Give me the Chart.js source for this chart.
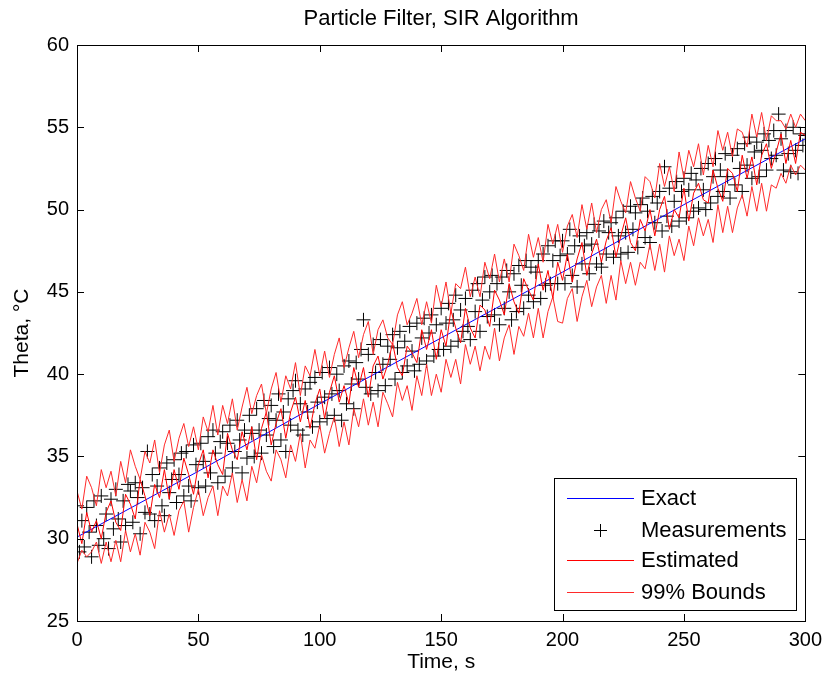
<!DOCTYPE html>
<html>
<head>
<meta charset="utf-8">
<title>Particle Filter, SIR Algorithm</title>
<script src="https://cdn.jsdelivr.net/npm/chart.js@4.4.0/dist/chart.umd.min.js"></script>
<style>
    html, body { margin: 0; padding: 0; background: #fff; }
    canvas { display: block; }
</style>
</head>
<body>
<canvas id="pf-chart" width="829" height="684"></canvas>
<script>
// exact temperature (straight line)
const exactTimes = [0, 50, 100, 150, 200, 250, 300];
const exactTheta = [30.1, 34.1, 38.2, 42.2, 46.2, 50.3, 54.3];

// measurements, one per second from t = 0 to 300
const measStep = 1;
const measTheta = [
    32.0, 29.2, 31.1, 29.5, 31.9, 30.4, 28.9, 32.3, 30.8, 29.6,
    32.6, 30.0, 31.5, 29.4, 32.4, 30.6, 33.0, 31.2, 29.8, 32.3,
    30.8, 33.3, 32.9, 31.0, 33.4, 32.5, 30.3, 33.1, 31.6, 35.3,
    31.5, 33.9, 31.1, 33.2, 34.3, 32.0, 31.4, 34.6, 32.8, 33.6,
    34.8, 32.2, 33.9, 35.2, 32.6, 35.3, 33.2, 32.3, 35.7, 34.5,
    33.1, 35.8, 34.7, 33.2, 36.2, 34.0, 36.6, 35.2, 33.4, 35.9,
    36.5, 33.8, 35.8, 36.9, 34.3, 35.3, 37.2, 36.0, 34.0, 36.6,
    34.9, 37.5, 36.4, 35.0, 37.9, 36.6, 35.2, 38.4, 36.3, 37.3,
    38.1, 35.6, 37.2, 38.8, 36.0, 37.7, 35.3, 38.5, 36.9, 39.0,
    39.6, 36.6, 38.2, 36.3, 39.1, 37.7, 39.5, 36.8, 39.8, 38.3,
    37.1, 40.1, 38.6, 37.3, 40.4, 38.8, 37.5, 40.0, 39.0, 37.2,
    40.5, 38.2, 40.8, 39.4, 37.9, 40.7, 39.7, 41.5, 43.3, 39.2,
    41.2, 38.8, 41.8, 40.1, 39.0, 42.1, 40.6, 39.3, 41.7, 40.9,
    42.4, 39.7, 41.6, 42.6, 40.1, 42.0, 40.5, 42.9, 41.4, 40.2,
    43.1, 40.6, 42.2, 43.4, 40.8, 42.5, 43.6, 41.1, 43.0, 41.5,
    44.0, 41.5, 43.1, 44.3, 41.7, 43.3, 44.8, 42.0, 43.9, 42.6,
    44.6, 42.9, 42.1, 45.1, 43.8, 45.5, 42.6, 44.5, 45.9, 43.5,
    45.0, 46.0, 43.6, 45.5, 43.0, 45.9, 44.0, 46.3, 45.0, 43.3,
    46.1, 43.8, 46.6, 45.4, 44.0, 46.9, 44.8, 46.5, 44.4, 46.2,
    46.9, 44.6, 47.3, 45.4, 47.8, 45.5, 46.9, 48.1, 45.5, 47.2,
    48.1, 45.5, 47.3, 48.8, 46.0, 47.8, 45.3, 48.4, 46.7, 47.8,
    48.6, 46.1, 47.9, 49.1, 46.7, 48.7, 46.5, 49.3, 47.3, 48.6,
    49.2, 47.1, 49.5, 48.4, 47.3, 49.9, 48.6, 47.4, 50.2, 48.8,
    49.8, 47.7, 50.3, 50.7, 48.3, 49.9, 48.0, 50.8, 49.2, 50.4,
    51.1, 48.7, 52.6, 49.6, 51.3, 49.0, 50.5, 51.7, 49.3, 51.1,
    51.9, 49.5, 51.2, 52.2, 49.9, 51.8, 50.1, 52.5, 51.2, 50.0,
    52.8, 50.4, 52.0, 53.1, 50.8, 52.4, 51.1, 53.4, 52.0, 50.7,
    53.3, 51.5, 53.7, 52.5, 51.1, 54.0, 52.7, 54.4, 51.9, 53.5,
    54.1, 52.0, 53.6, 54.6, 52.4, 54.2, 53.1, 54.8, 53.3, 55.8,
    54.3, 52.4, 54.8, 53.4, 52.3, 55.0, 53.6, 52.2, 54.6, 53.9,
    54.5
];

// filter output, every 2 s from t = 0 to 300
const filterStep = 2;
const estTheta = [
    30.9, 29.7, 31.6, 30.4, 31.1,  30.0, 31.6, 32.3, 31.0, 30.5,
    32.7, 32.1, 31.2, 33.6, 32.6,  31.4, 33.3, 32.5, 34.2, 32.4,
    34.2, 33.0, 34.9, 33.9, 32.7,  34.5, 35.4, 33.7, 35.4, 34.5,
    33.9, 36.4, 35.4, 34.8, 36.5,  35.4, 36.8, 34.8, 36.7, 37.7,
    35.7, 37.0, 37.9, 36.1, 37.7,  38.6, 37.1, 38.4, 36.7, 38.2,
    39.1, 37.3, 38.9, 39.9, 38.3,  39.3, 38.2, 40.4, 39.2, 40.4,
    38.6, 40.5, 41.1, 39.7, 40.6,  41.9, 40.4, 39.9, 41.7, 41.3,
    40.7, 42.7, 41.5, 42.7, 40.9,  42.7, 41.7, 43.9, 42.8, 41.9,
    44.0, 42.8, 42.2, 44.2, 43.9,  42.9, 45.1, 44.5, 43.6, 45.5,
    44.4, 43.7, 45.8, 45.1, 44.5,  46.7, 45.1, 46.3, 44.6, 46.8,
    45.7, 47.3, 45.6, 47.0, 48.0,  46.0, 47.3, 48.2, 46.8, 48.1,
    48.9, 47.1, 48.4, 49.5, 48.0,  47.5, 49.4, 48.7, 50.0, 48.4,
    50.0, 50.8, 48.8, 50.0, 49.5,  51.3, 49.3, 51.0, 51.6, 50.6,
    50.4, 52.4, 51.3, 50.5, 52.5,  52.2, 51.1, 53.3, 51.9, 53.2,
    51.5, 53.3, 54.0, 52.5, 53.5,  54.6, 52.8, 54.2, 52.8, 54.7,
    54.5
];
const upperTheta = [
    32.9, 31.8, 33.8, 33.1, 32.0,  34.2, 33.1, 34.1, 32.6, 34.7,
    33.4, 35.4, 34.4, 33.6, 35.3,  34.6, 36.0, 34.0, 35.7, 36.6,
    34.7, 36.1, 37.0, 35.6, 36.8,  35.4, 37.4, 36.5, 38.1, 36.3,
    38.1, 37.0, 38.5, 36.6, 38.0,  39.2, 37.6, 38.7, 39.4, 37.6,
    39.1, 40.1, 38.3, 39.9, 39.1,  40.7, 38.7, 40.5, 39.9, 41.5,
    39.9, 41.4, 39.8, 41.2, 42.2,  40.4, 41.6, 42.6, 41.0, 42.4,
    43.2, 41.2, 42.7, 43.3, 42.2,  41.8, 43.6, 44.4, 43.0, 43.7,
    44.6, 43.0, 44.4, 43.1, 45.4,  44.1, 45.6, 43.7, 45.5, 45.2,
    46.5, 44.7, 45.9, 44.7, 46.8,  45.8, 47.3, 45.6, 47.0, 45.6,
    47.9, 47.2, 46.3, 48.5, 47.1,  48.3, 46.8, 49.1, 47.9, 49.1,
    47.4, 49.0, 49.7, 48.3, 50.3,  48.8, 50.4, 48.6, 50.0, 50.6,
    49.2, 51.4, 50.5, 49.8, 51.7,  50.7, 49.9, 52.0, 51.7, 50.7,
    52.8, 51.4, 52.6, 51.1, 53.5,  51.9, 53.6, 52.6, 54.0, 52.1,
    53.9, 52.6, 54.8, 53.6, 54.7,  53.2, 54.9, 54.7, 53.8, 55.8,
    54.4, 55.9, 54.2, 55.7, 55.4,  55.4, 54.9, 55.8, 55.0, 55.8,
    55.4
];
const lowerTheta = [
    28.5, 29.3, 28.9, 29.2, 29.8,  28.5, 29.8, 28.6, 29.9, 28.6,
    30.5, 29.2, 30.3, 29.0, 31.0,  30.4, 29.4, 31.7, 30.4, 31.5,
    30.2, 31.7, 32.3, 30.4, 31.9,  33.0, 31.4, 32.5, 33.2, 31.4,
    33.2, 32.6, 34.0, 32.2, 33.6,  32.3, 34.4, 33.4, 35.1, 34.1,
    33.5, 35.4, 34.8, 33.7, 35.7,  34.7, 36.4, 34.3, 36.0, 35.5,
    36.9, 35.2, 36.4, 37.4, 35.6,  37.1, 35.7, 37.9, 36.8, 38.5,
    36.9, 38.3, 36.8, 38.9, 38.2,  37.4, 39.5, 38.4, 39.3, 37.8,
    39.9, 38.7, 40.6, 38.7, 40.0,  38.9, 40.9, 39.8, 40.9, 39.4,
    41.8, 40.6, 41.7, 40.2, 41.7,  40.9, 42.8, 40.8, 42.2, 43.0,
    41.2, 42.9, 42.3, 43.7, 42.2,  44.0, 42.2, 43.8, 44.7, 43.2,
    43.1, 44.6, 45.2, 43.2, 44.7,  45.7, 44.1, 45.3, 46.0, 44.3,
    46.0, 44.5, 46.9, 45.5, 46.8,  45.4, 46.8, 46.4, 47.9, 46.3,
    47.9, 46.2, 48.4, 47.2, 48.2,  46.9, 49.0, 47.8, 49.5, 48.4,
    49.4, 48.0, 50.3, 48.6, 50.2,  48.6, 50.1, 50.9, 49.6, 51.4,
    49.9, 51.6, 49.9, 51.5, 51.3,  52.2, 51.6, 52.7, 52.1, 52.7,
    52.4
];

const xTicks = [0, 50, 100, 150, 200, 250, 300];
const yTicks = [25, 30, 35, 40, 45, 50, 55, 60];
const legendLabels = ['Exact', 'Measurements', 'Estimated', '99% Bounds'];
const chartTitle = 'Particle Filter, SIR Algorithm';

const FONT = '"Liberation Sans", Arial, sans-serif';
Chart.defaults.font.family = FONT;
Chart.defaults.color = '#000';

function toPoints(values, step) {
    return values.map((v, i) => ({ x: i * step, y: v }));
}

// title centred over the axes, like matlab does
const titlePlugin = {
    id: 'axesTitle',
    afterDraw(chart) {
        const { ctx, chartArea: a } = chart;
        ctx.save();
        ctx.font = '22px ' + FONT;
        ctx.fillStyle = '#000';
        ctx.textAlign = 'center';
        ctx.textBaseline = 'middle';
        ctx.fillText(chartTitle, (a.left + a.right) / 2, 19);
        ctx.restore();
    }
};

// matlab style box with inward ticks on all four sides
const boxPlugin = {
    id: 'matlabBox',
    afterDatasetsDraw(chart) {
        const { ctx, chartArea: a, scales: { x, y } } = chart;
        const len = 7;
        ctx.save();
        ctx.strokeStyle = '#000';
        ctx.lineWidth = 1;
        ctx.beginPath();
        xTicks.forEach(v => {
            const px = Math.round(x.getPixelForValue(v)) + 0.5;
            ctx.moveTo(px, a.bottom); ctx.lineTo(px, a.bottom - len);
            ctx.moveTo(px, a.top); ctx.lineTo(px, a.top + len);
        });
        yTicks.forEach(v => {
            const py = Math.round(y.getPixelForValue(v)) + 0.5;
            ctx.moveTo(a.left, py); ctx.lineTo(a.left + len, py);
            ctx.moveTo(a.right, py); ctx.lineTo(a.right - len, py);
        });
        ctx.stroke();
        ctx.strokeRect(Math.round(a.left) + 0.5, Math.round(a.top) + 0.5,
            Math.round(a.right - a.left), Math.round(a.bottom - a.top));
        ctx.restore();
    }
};

// legend box drawn inside the plot, lower right
const legendPlugin = {
    id: 'insideLegend',
    afterDraw(chart) {
        const { ctx, chartArea: a } = chart;
        const w = 242, h = 132;
        const left = Math.round(a.right - 9 - w);
        const top = Math.round(a.bottom - 11 - h);
        ctx.save();
        ctx.fillStyle = '#fff';
        ctx.fillRect(left, top, w, h);
        ctx.strokeStyle = '#000';
        ctx.lineWidth = 1;
        ctx.strokeRect(left + 0.5, top + 0.5, w, h);

        const rowY = [20, 52, 82, 114];
        const colors = ['#0000ff', '#000000', '#ff0000', '#ff2a2a'];
        ctx.font = '22px ' + FONT;
        ctx.textBaseline = 'middle';
        ctx.textAlign = 'left';
        legendLabels.forEach((label, i) => {
            const yy = top + rowY[i];
            ctx.fillStyle = colors[i];
            if (i === 1) {
                ctx.fillRect(left + 40, yy, 13, 1);
                ctx.fillRect(left + 46, yy - 6, 1, 13);
            } else {
                ctx.fillRect(left + 13, yy, 67, 1);
            }
            ctx.fillStyle = '#000';
            ctx.fillText(label, left + 87, yy + 1);
        });
        ctx.restore();
    }
};

const lineBase = { showLine: true, pointRadius: 0, borderWidth: 1, fill: false, tension: 0 };

new Chart(document.getElementById('pf-chart'), {
    type: 'scatter',
    data: {
        datasets: [
            Object.assign({}, lineBase, {
                label: 'Exact',
                data: exactTimes.map((t, i) => ({ x: t, y: exactTheta[i] })),
                borderColor: '#0000ff',
                order: 3
            }),
            {
                label: 'Measurements',
                data: toPoints(measTheta, measStep),
                showLine: false,
                pointStyle: 'cross',
                pointRadius: 7,
                borderColor: '#000',
                borderWidth: 1,
                order: 4
            },
            Object.assign({}, lineBase, {
                label: 'Estimated',
                data: toPoints(estTheta, filterStep),
                borderColor: '#ff0000',
                order: 2
            }),
            Object.assign({}, lineBase, {
                label: '99% Bounds',
                data: toPoints(upperTheta, filterStep),
                borderColor: '#ff2a2a',
                order: 1
            }),
            Object.assign({}, lineBase, {
                label: '99% Bounds (lower)',
                data: toPoints(lowerTheta, filterStep),
                borderColor: '#ff2a2a',
                order: 1
            })
        ]
    },
    options: {
        responsive: false,
        animation: false,
        layout: { padding: { top: 45, right: 23 } },
        plugins: {
            legend: { display: false },
            tooltip: { enabled: false },
            title: { display: false }
        },
        scales: {
            x: {
                type: 'linear',
                min: 0,
                max: 300,
                grid: { display: false, drawTicks: false },
                border: { display: false },
                ticks: { stepSize: 50, font: { size: 20 }, padding: 7, maxRotation: 0 },
                title: { display: true, text: 'Time, s', font: { size: 21 }, padding: { top: 0, bottom: 9 } },
                afterFit(scale) { scale.height = 63; }
            },
            y: {
                min: 25,
                max: 60,
                grid: { display: false, drawTicks: false },
                border: { display: false },
                ticks: { stepSize: 5, font: { size: 20 }, padding: 8 },
                title: { display: true, text: 'Theta, °C', font: { size: 21 }, padding: { top: 10, bottom: 0 } },
                afterFit(scale) { scale.width = 77; }
            }
        }
    },
    plugins: [boxPlugin, legendPlugin, titlePlugin]
});
</script>
</body>
</html>
